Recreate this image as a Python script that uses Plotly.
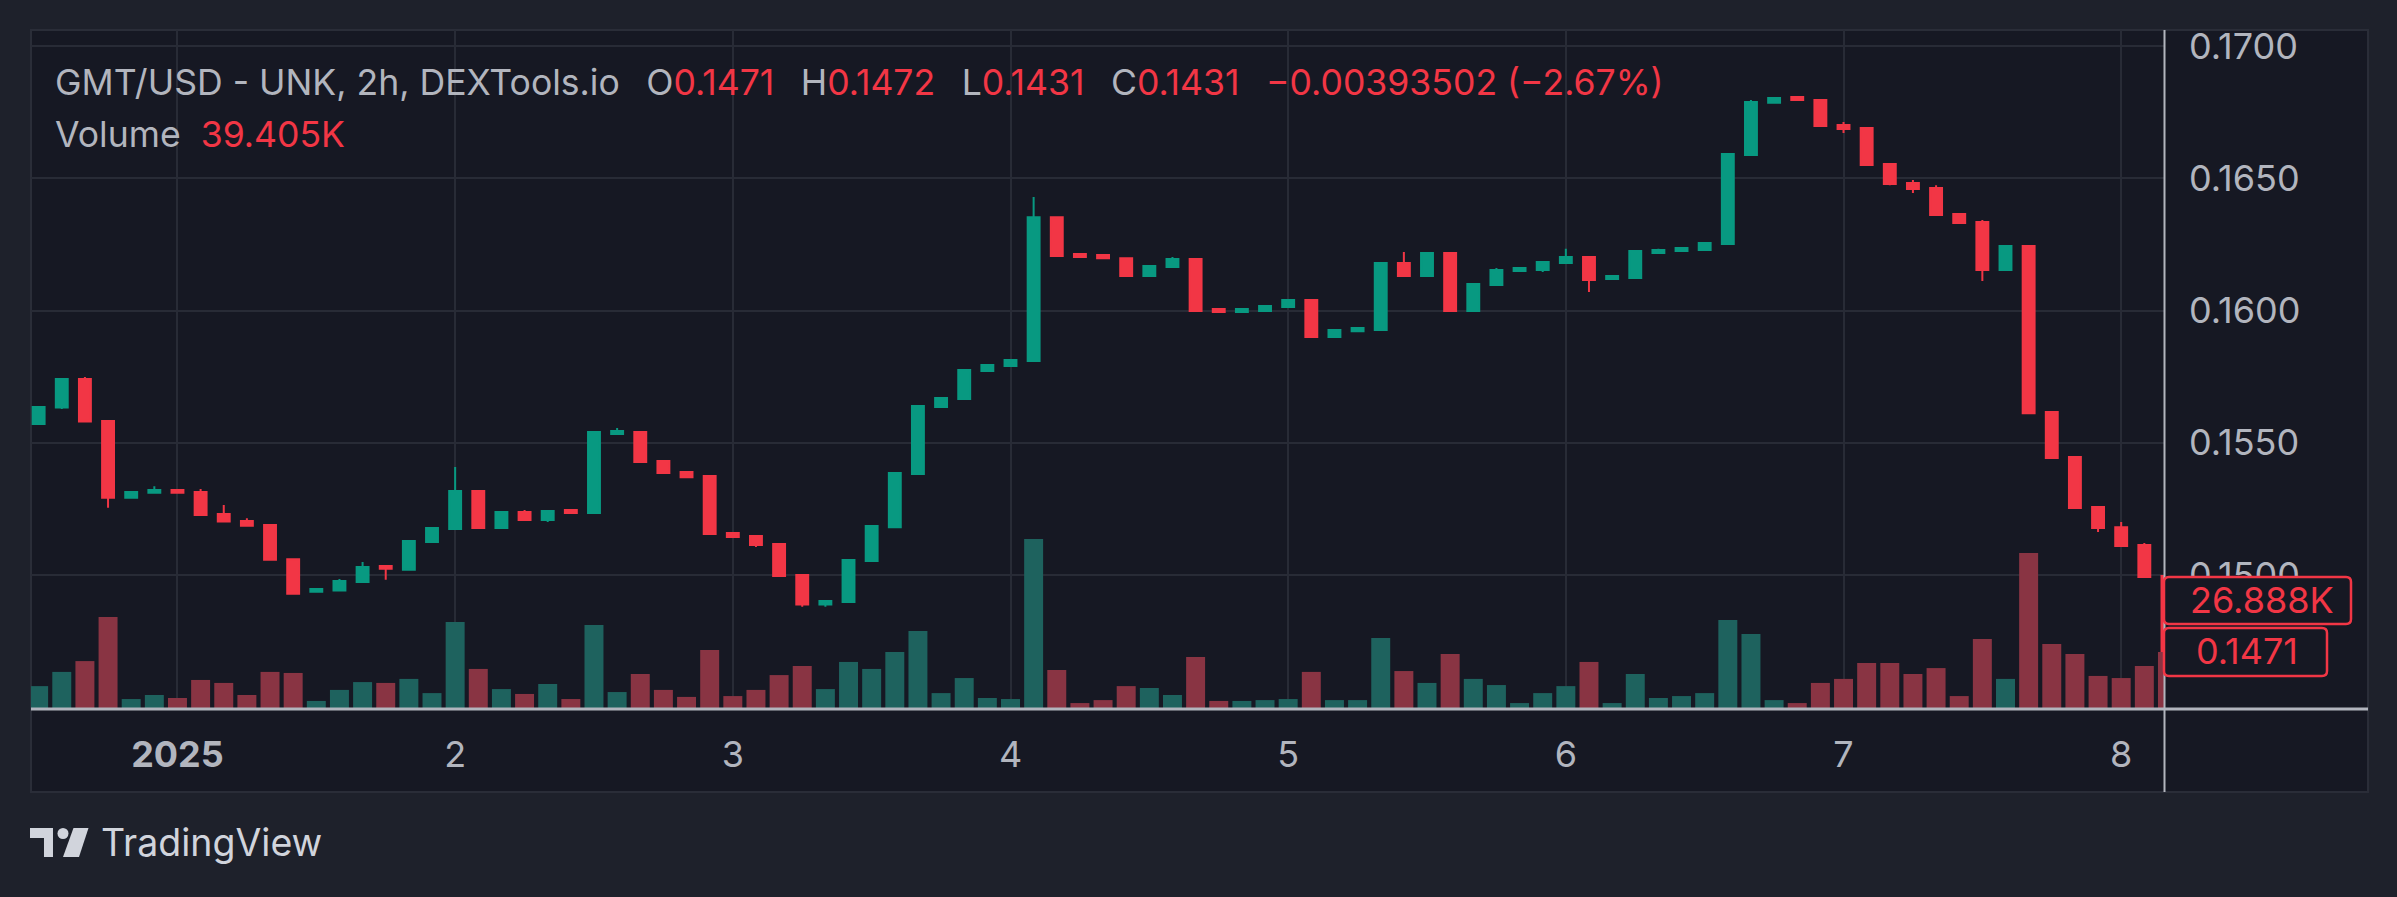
import plotly.graph_objects as go
import pandas as pd

# ---------------- data (GMT/USD 2h candles, Dec 31 2024 12:00 -> Jan 8 2025 04:00) ----------------
start_time = "2024-12-31 12:00"
opens = [0.15571, 0.15633, 0.15741, 0.15582, 0.15292, 0.15311, 0.15321, 0.15314, 0.15231, 0.15204,
         0.15189, 0.15060, 0.14937, 0.14941, 0.14974, 0.15034, 0.15020, 0.15125, 0.15174, 0.15318,
         0.15178, 0.15238, 0.15208, 0.15246, 0.15234, 0.15533, 0.15541, 0.15431, 0.15389, 0.15374,
         0.15159, 0.15147, 0.15117, 0.15000, 0.14888, 0.14898, 0.15053, 0.15181, 0.15382, 0.15635,
         0.15665, 0.15771, 0.15790, 0.15809, 0.16353, 0.16214, 0.16210, 0.16198, 0.16130, 0.16164,
         0.16195, 0.16006, 0.15994, 0.15998, 0.16013, 0.16040, 0.15900, 0.15922, 0.15926, 0.16180,
         0.16130, 0.16217, 0.15998, 0.16096, 0.16149, 0.16153, 0.16180, 0.16202, 0.16119, 0.16123,
         0.16217, 0.16225, 0.16229, 0.16251, 0.16588, 0.16785, 0.16807, 0.16796, 0.16701, 0.16690,
         0.16554, 0.16482, 0.16463, 0.16365, 0.16335, 0.16153, 0.16244, 0.15616, 0.15446, 0.15257,
         0.15181, 0.15113, 0.14996]
highs = [0.15635, 0.15741, 0.15749, 0.15582, 0.15314, 0.15336, 0.15321, 0.15325, 0.15265, 0.15215,
         0.15189, 0.15060, 0.14947, 0.14985, 0.15049, 0.15034, 0.15129, 0.15178, 0.15408, 0.15318,
         0.15242, 0.15246, 0.15242, 0.15250, 0.15541, 0.15556, 0.15544, 0.15435, 0.15389, 0.15374,
         0.15159, 0.15147, 0.15117, 0.15004, 0.14905, 0.15057, 0.15189, 0.15389, 0.15643, 0.15669,
         0.15775, 0.15794, 0.15813, 0.16429, 0.16353, 0.16214, 0.16210, 0.16198, 0.16172, 0.16202,
         0.16195, 0.16006, 0.16006, 0.16017, 0.16040, 0.16040, 0.15926, 0.15934, 0.16180, 0.16221,
         0.16217, 0.16217, 0.16100, 0.16161, 0.16161, 0.16183, 0.16233, 0.16202, 0.16130, 0.16225,
         0.16233, 0.16240, 0.16259, 0.16592, 0.16796, 0.16803, 0.16807, 0.16796, 0.16713, 0.16690,
         0.16554, 0.16493, 0.16474, 0.16365, 0.16342, 0.16244, 0.16244, 0.15616, 0.15450, 0.15261,
         0.15200, 0.15121, 0.14996]
lows = [0.15571, 0.15628, 0.15580, 0.15254, 0.15292, 0.15311, 0.15311, 0.15227, 0.15202, 0.15186,
        0.15058, 0.14929, 0.14937, 0.14941, 0.14974, 0.14982, 0.15020, 0.15125, 0.15174, 0.15174,
        0.15178, 0.15208, 0.15200, 0.15234, 0.15231, 0.15529, 0.15427, 0.15386, 0.15370, 0.15155,
        0.15144, 0.15106, 0.14996, 0.14880, 0.14880, 0.14895, 0.15053, 0.15181, 0.15382, 0.15635,
        0.15665, 0.15771, 0.15790, 0.15809, 0.16206, 0.16202, 0.16198, 0.16130, 0.16127, 0.16164,
        0.15998, 0.15991, 0.15994, 0.15998, 0.16013, 0.15900, 0.15900, 0.15922, 0.15926, 0.16130,
        0.16130, 0.15998, 0.15998, 0.16096, 0.16149, 0.16146, 0.16180, 0.16070, 0.16119, 0.16119,
        0.16217, 0.16225, 0.16229, 0.16248, 0.16588, 0.16785, 0.16796, 0.16698, 0.16671, 0.16550,
        0.16474, 0.16444, 0.16361, 0.16331, 0.16112, 0.16153, 0.15612, 0.15442, 0.15253, 0.15163,
        0.15110, 0.14992, 0.14710]
closes = [0.15635, 0.15741, 0.15580, 0.15292, 0.15314, 0.15321, 0.15311, 0.15227, 0.15202, 0.15186,
          0.15058, 0.14929, 0.14947, 0.14977, 0.15030, 0.15024, 0.15129, 0.15178, 0.15318, 0.15178,
          0.15238, 0.15208, 0.15242, 0.15234, 0.15541, 0.15544, 0.15427, 0.15386, 0.15370, 0.15155,
          0.15144, 0.15113, 0.14996, 0.14888, 0.14902, 0.15057, 0.15185, 0.15386, 0.15639, 0.15669,
          0.15775, 0.15794, 0.15813, 0.16353, 0.16206, 0.16202, 0.16198, 0.16130, 0.16168, 0.16195,
          0.15998, 0.15994, 0.16006, 0.16017, 0.16040, 0.15900, 0.15926, 0.15934, 0.16180, 0.16130,
          0.16217, 0.15998, 0.16100, 0.16153, 0.16161, 0.16183, 0.16202, 0.16115, 0.16130, 0.16225,
          0.16229, 0.16236, 0.16255, 0.16592, 0.16788, 0.16803, 0.16796, 0.16698, 0.16686, 0.16550,
          0.16478, 0.16459, 0.16361, 0.16331, 0.16153, 0.16244, 0.15612, 0.15442, 0.15253, 0.15178,
          0.15110, 0.14992, 0.14710]
volumes_k = [10.8, 17.5, 22.6, 43.4, 4.7, 6.6, 5.2, 13.7, 12.3, 6.6,
             17.5, 17.0, 3.8, 9.0, 12.7, 12.3, 14.2, 7.5, 41.0, 18.9,
             9.4, 7.1, 11.8, 4.7, 39.6, 8.0, 16.5, 9.0, 5.7, 27.8,
             6.1, 9.0, 16.0, 20.3, 9.4, 22.2, 18.9, 26.9, 36.8, 7.5,
             14.6, 5.2, 4.7, 80.2, 18.4, 2.8, 4.2, 10.8, 9.9, 6.6,
             24.5, 3.8, 3.8, 4.2, 4.7, 17.5, 4.2, 4.2, 33.5, 17.9,
             12.3, 25.9, 14.2, 11.3, 2.8, 7.5, 10.8, 22.2, 2.8, 16.5,
             5.2, 6.1, 7.5, 42.0, 35.4, 4.2, 2.8, 12.3, 14.2, 21.7,
             21.7, 16.5, 19.3, 6.1, 33.0, 14.2, 73.6, 30.7, 25.9, 15.6,
             14.6, 20.3, 26.9]
day_ticks = ["2025-01-01", "2025-01-02", "2025-01-03", "2025-01-04",
             "2025-01-05", "2025-01-06", "2025-01-07", "2025-01-08"]
day_labels = ["<b>2025</b>", "2", "3", "4", "5", "6", "7", "8"]
price_ticks = [0.150, 0.155, 0.160, 0.165, 0.170]
price_labels = ["0.1500", "0.1550", "0.1600", "0.1650", "0.1700"]

# ---------------- style ----------------
W, H = 2397, 897
L, R, T, B = 31, 2164, 30, 709
OUTER = "#1e212b"
PANEL = "#161823"
GRID = "#282b36"
TXT = "#b2b5be"
UP = "#089981"
DN = "#f23645"
VUP = "#1e625e"
VDN = "#893443"
FONT = "Inter"

times = pd.date_range(start_time, periods=len(opens), freq="2h")
step = pd.Timedelta(hours=2)
t0 = pd.Timestamp(start_time)
x_left = t0 + step * (-0.33)
x_right = t0 + step * (91.85)


def px(x):
    return (x - L) / (R - L)


def py(y):
    return (B - y) / (B - T)


def rrect(x0, y0, x1, y1, r=5):
    pts = [("M", x0 + r, y0), ("L", x1 - r, y0), ("Q", x1, y0, x1, y0 + r), ("L", x1, y1 - r),
           ("Q", x1, y1, x1 - r, y1), ("L", x0 + r, y1), ("Q", x0, y1, x0, y1 - r),
           ("L", x0, y0 + r), ("Q", x0, y0, x0 + r, y0)]
    out = []
    for p in pts:
        if p[0] == "Q":
            out.append(f"Q {px(p[1]):.6f},{py(p[2]):.6f} {px(p[3]):.6f},{py(p[4]):.6f}")
        else:
            out.append(f"{p[0]} {px(p[1]):.6f},{py(p[2]):.6f}")
    return " ".join(out) + " Z"


vcolors = [VUP if c >= o else VDN for o, c in zip(opens, closes)]

fig = go.Figure()
fig.add_trace(go.Bar(
    x=times, y=volumes_k, yaxis="y2", marker=dict(color=vcolors, line=dict(width=0)),
    width=0.82 * 2 * 3600 * 1000, showlegend=False, hoverinfo="skip"))
fig.add_trace(go.Candlestick(
    x=times, open=opens, high=highs, low=lows, close=closes,
    increasing=dict(line=dict(color=UP, width=2), fillcolor=UP),
    decreasing=dict(line=dict(color=DN, width=2), fillcolor=DN),
    whiskerwidth=0, showlegend=False))

shapes = [
    dict(type="rect", xref="paper", yref="paper", x0=px(31), x1=px(2368), y0=py(792), y1=py(30),
         fillcolor=PANEL, line=dict(color="#2a2d38", width=2), layer="below"),
    dict(type="line", xref="paper", yref="paper", x0=px(31), x1=px(2368), y0=py(709), y1=py(709),
         line=dict(color=TXT, width=3), layer="above"),
    dict(type="line", xref="paper", yref="paper", x0=px(2164.5), x1=px(2164.5), y0=py(792), y1=py(30),
         line=dict(color=TXT, width=2), layer="above"),
    dict(type="path", xref="paper", yref="paper", path=rrect(2164, 577, 2351, 624),
         fillcolor=PANEL, line=dict(color=DN, width=2.5), layer="above"),
    dict(type="path", xref="paper", yref="paper", path=rrect(2164, 628, 2327, 676),
         fillcolor=PANEL, line=dict(color=DN, width=2.5), layer="above"),
]


def poly(points):
    d = "M " + " L ".join(f"{px(x):.5f},{py(y):.5f}" for x, y in points) + " Z"
    return d


LOGO = "#d1d4dc"
shapes.append(dict(type="path", xref="paper", yref="paper",
                   path=poly([(30, 828), (53, 828), (53, 857), (44, 857), (44, 838), (30, 838)]),
                   fillcolor=LOGO, line=dict(width=0), layer="above"))
shapes.append(dict(type="circle", xref="paper", yref="paper", x0=px(57.5), x1=px(68.5), y0=py(839), y1=py(828),
                   fillcolor=LOGO, line=dict(width=0), layer="above"))
shapes.append(dict(type="path", xref="paper", yref="paper",
                   path=poly([(73.5, 828), (88.5, 828), (79, 857), (63, 857)]),
                   fillcolor=LOGO, line=dict(width=0), layer="above"))

sp = "\u00a0\u00a0\u2009"
red = lambda s: f"<span style='color:{DN}'>{s}</span>"
title = ("GMT/USD - UNK, 2h, DEXTools.io" + sp + "O" + red("0.1471") + sp + "H" + red("0.1472") + sp +
         "L" + red("0.1431") + sp + "C" + red("0.1431") + sp + red("\u22120.00393502 (\u22122.67%)"))
annotations = [
    dict(text=title, xref="paper", yref="paper", x=px(53), y=py(83), xanchor="left", yanchor="middle",
         showarrow=False, font=dict(family=FONT, size=35.6, color=TXT)),
    dict(text="Volume" + "\u00a0\u00a0" + red("39.405K"), xref="paper", yref="paper", x=px(53), y=py(134),
         xanchor="left", yanchor="middle", showarrow=False, font=dict(family=FONT, size=35.6, color=TXT)),
    dict(text="26.888K", xref="paper", yref="paper", x=px(2262), y=py(600), xanchor="center",
         yanchor="middle", showarrow=False, font=dict(family=FONT, size=36, color=DN)),
    dict(text="0.1471", xref="paper", yref="paper", x=px(2247), y=py(651), xanchor="center",
         yanchor="middle", showarrow=False, font=dict(family=FONT, size=36, color=DN)),
    dict(text="TradingView", xref="paper", yref="paper", x=px(99), y=py(842), xanchor="left",
         yanchor="middle", showarrow=False, font=dict(family=FONT, size=37.5, color=LOGO)),
]

fig.update_layout(
    width=W, height=H, autosize=False,
    margin=dict(l=L, r=W - R, t=T, b=H - B, pad=0),
    paper_bgcolor=OUTER, plot_bgcolor="rgba(0,0,0,0)",
    boxgap=0.265,
    shapes=shapes, annotations=annotations,
    showlegend=False,
    xaxis=dict(type="date", range=[x_left, x_right], rangeslider=dict(visible=False),
               tickvals=day_ticks, ticktext=day_labels, showgrid=True, gridcolor=GRID, gridwidth=2,
               zeroline=False, showline=False, ticks="", ticklabelstandoff=21,
               tickfont=dict(family=FONT, size=36, color=TXT)),
    yaxis=dict(range=[0.17 - 663 / 26450, 0.17 + 16 / 26450], side="right", tickvals=price_ticks,
               ticktext=price_labels, showgrid=True, gridcolor=GRID, gridwidth=2, zeroline=False,
               showline=False, ticks="", ticklabelstandoff=24,
               tickfont=dict(family=FONT, size=36, color=TXT)),
    yaxis2=dict(overlaying="y", range=[0, 320.3], visible=False, showgrid=False),
)

fig.write_html("out.html")
